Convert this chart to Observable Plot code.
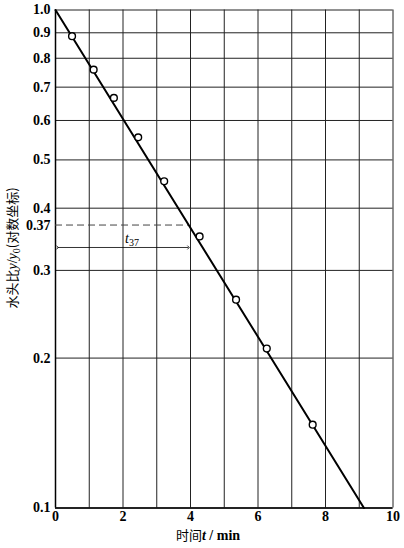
<!DOCTYPE html>
<html>
<head>
<meta charset="utf-8">
<script src="https://cdn.jsdelivr.net/npm/d3@7"></script>
<script src="https://cdn.jsdelivr.net/npm/@observablehq/plot@0.6"></script>
<style>
  html, body { margin: 0; padding: 0; background: #fff; }
  #chart { width: 404px; height: 548px; }
</style>
</head>
<body>
<div id="chart"></div>
<script>
// ---- data ----
const times = [0.49, 1.13, 1.73, 2.45, 3.22, 4.27, 5.35, 6.26, 7.62];
const ratios = [0.886, 0.759, 0.666, 0.555, 0.453, 0.351, 0.262, 0.209, 0.147];
const fitT = [0, 9.14];
const fitY = [1.0, 0.1];
const xTicks = [0, 2, 4, 6, 8, 10];
const xGrid = [1, 2, 3, 4, 5, 6, 7, 8, 9, 10];
const yTicks = [0.1, 0.2, 0.3, 0.37, 0.4, 0.5, 0.6, 0.7, 0.8, 0.9, 1.0];
const yGrid = [0.1, 0.2, 0.3, 0.4, 0.5, 0.6, 0.7, 0.8, 0.9, 1.0];
const y37 = 0.37;
const t37 = 3.94;
const arrowY = 0.3335;

const points = times.map((t, i) => ({t, r: ratios[i]}));
const fit = fitT.map((t, i) => ({t, r: fitY[i]}));

const SERIF = "Liberation Serif";
const CJK = "Noto Sans CJK SC";

const plot = Plot.plot({
  width: 404,
  height: 548,
  marginLeft: 55,
  marginRight: 11.5,
  marginTop: 9.5,
  marginBottom: 40.5,
  style: {fontSize: "14px", background: "#fff", color: "#000", fontFamily: SERIF},
  x: {domain: [0, 10], ticks: xTicks, tickSize: 0, tickPadding: 3, label: null},
  y: {type: "log", domain: [0.1, 1.0], ticks: yTicks, tickSize: 0, tickPadding: 5,
      tickFormat: d => d === 0.37 ? "0.37" : d.toFixed(1), label: null},
  marks: [
    Plot.ruleX(xGrid, {stroke: "#222", strokeWidth: 1}),
    Plot.ruleY(yGrid, {stroke: "#222", strokeWidth: 1}),
    Plot.ruleX([0], {stroke: "#000", strokeWidth: 1.5}),
    Plot.ruleY([0.1], {stroke: "#000", strokeWidth: 1.5}),
    Plot.ruleY([y37], {x1: 0, x2: t37, stroke: "#444", strokeWidth: 1, strokeDasharray: "7,4"}),
    Plot.link([{}], {x1: 0.06, x2: t37, y1: arrowY, y2: arrowY, stroke: "#000", strokeWidth: 0.8,
      markerStart: "arrow", markerEnd: "arrow"}),
    Plot.line(fit, {x: "t", y: "r", stroke: "#000", strokeWidth: 2}),
    Plot.dot(points, {x: "t", y: "r", r: 3.4, stroke: "#000", strokeWidth: 1.4, fill: "#fff"})
  ]
});

document.getElementById("chart").appendChild(plot);

const svg = d3.select(plot);
// tick labels: serif, bold
svg.selectAll("g[aria-label$='tick label'] text")
  .attr("font-family", SERIF).style("font-family", SERIF)
  .style("font-weight", "bold").style("font-size", "14px");

const xs = v => 55 + (v / 10) * (404 - 55 - 11.5);

const t37lab = svg.append("text")
  .attr("x", xs(2.28)).attr("y", 243)
  .attr("text-anchor", "middle")
  .style("font-family", SERIF).style("font-size", "14px");
t37lab.append("tspan").text("t").style("font-style", "italic");
t37lab.append("tspan").text("37").attr("dy", 3).style("font-size", "10px");

const xl = svg.append("text")
  .attr("x", 208).attr("y", 540)
  .attr("text-anchor", "middle")
  .style("font-family", SERIF).style("font-size", "14px").style("font-weight", "bold");
xl.append("tspan").text("时间").style("font-family", CJK).style("font-size", "13px").style("font-weight", "normal");
xl.append("tspan").text("t").style("font-style", "italic");
xl.append("tspan").text(" / min");

const yl = svg.append("text")
  .attr("transform", "translate(17,248) rotate(-90)")
  .attr("text-anchor", "middle")
  .style("font-family", SERIF).style("font-size", "14px");
yl.append("tspan").text("水头比").style("font-family", CJK).style("font-size", "13px");
yl.append("tspan").text("y").style("font-style", "italic");
yl.append("tspan").text("/");
yl.append("tspan").text("y").style("font-style", "italic");
yl.append("tspan").text("0").attr("dy", 3).style("font-size", "10px");
yl.append("tspan").text("(对数坐标)").attr("dy", -3).style("font-family", CJK).style("font-size", "13px");
</script>
</body>
</html>
